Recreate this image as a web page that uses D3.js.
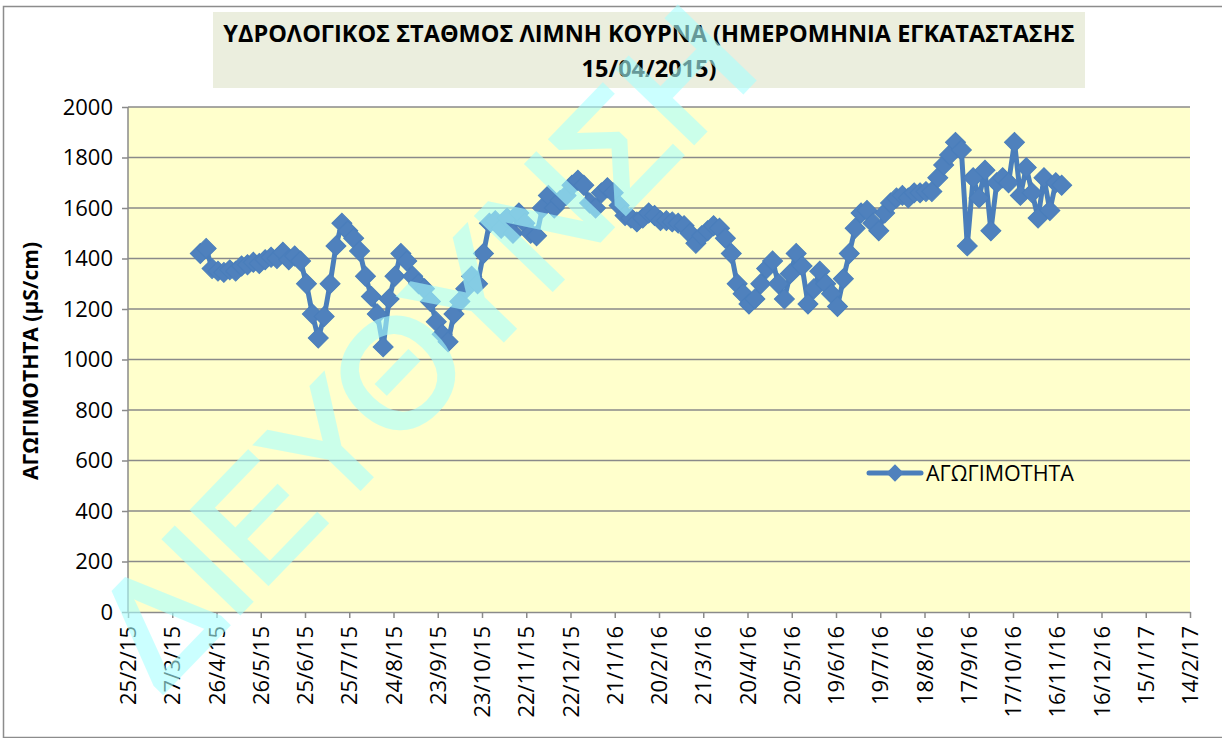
<!DOCTYPE html>
<html>
<head>
<meta charset="utf-8">
<script src="https://cdn.jsdelivr.net/npm/d3@7"></script>
<style>
  body { margin: 0; background: #fff; }
  text { font-family: "Open Sans", sans-serif; }
</style>
</head>
<body>
<div id="chart"></div>
<script>
var svgWidth = 1222;
var svgHeight = 738;

var margin = {
  top: 107,
  right: 32,
  bottom: 126,
  left: 128
};

var width = svgWidth - margin.left - margin.right;
var height = svgHeight - margin.top - margin.bottom;

// x-axis tick labels (every 30 days)
var tickLabels = ["25/2/15", "27/3/15", "26/4/15", "26/5/15", "25/6/15", "25/7/15",
  "24/8/15", "23/9/15", "23/10/15", "22/11/15", "22/12/15", "21/1/16", "20/2/16",
  "21/3/16", "20/4/16", "20/5/16", "19/6/16", "19/7/16", "18/8/16", "17/9/16",
  "17/10/16", "16/11/16", "16/12/16", "15/1/17", "14/2/17"];

var yTicks = [0, 200, 400, 600, 800, 1000, 1200, 1400, 1600, 1800, 2000];

// readings, one every 4 days starting on the installation date
var firstDate = "15/4/15";
var stepDays = 4;
var conductivity = [
  1420, 1440, 1360, 1350, 1345, 1355, 1350, 1370, 1375, 1385,
  1380, 1395, 1405, 1400, 1425, 1395, 1410, 1390, 1300, 1180,
  1085, 1170, 1300, 1450, 1540, 1510, 1480, 1430, 1330, 1250,
  1180, 1050, 1240, 1330, 1420, 1390, 1330, 1300, 1280, 1230,
  1150, 1100, 1070, 1180, 1230, 1280, 1330, 1300, 1420, 1540,
  1550, 1520, 1560, 1500, 1580, 1540, 1500, 1490, 1600, 1650,
  1600, 1630, 1650, 1690, 1710, 1690, 1620, 1600, 1660, 1680,
  1660, 1610, 1570, 1560, 1545, 1560, 1580, 1570, 1550, 1550,
  1545, 1540, 1530, 1500, 1460, 1490, 1510, 1530, 1520, 1480,
  1420, 1300, 1260, 1220, 1240, 1300, 1360, 1390, 1300, 1240,
  1340, 1420, 1370, 1220, 1280, 1350, 1300, 1260, 1210, 1320,
  1420, 1520, 1580, 1590, 1540, 1510, 1580, 1620, 1640, 1650,
  1640, 1660, 1660, 1665, 1665, 1720, 1770, 1810, 1860, 1830,
  1450, 1720, 1640, 1750, 1510, 1700, 1720, 1700, 1860, 1650,
  1760, 1660, 1560, 1720, 1590, 1700, 1690
];

var parseDate = d3.utcParse("%d/%m/%y");
var startDay = parseDate(firstDate);

var seriesData = conductivity.map(function(v, i) {
  return { date: d3.utcDay.offset(startDay, i * stepDays), value: v };
});

var svg = d3
  .select("#chart")
  .append("svg")
  .attr("width", svgWidth)
  .attr("height", svgHeight);

// outer chart border
svg.append("rect")
  .attr("x", 3.5)
  .attr("y", 6.5)
  .attr("width", 1240)
  .attr("height", 731)
  .attr("fill", "none")
  .attr("stroke", "#8c8c8c")
  .attr("stroke-width", 1.5);

// title box
svg.append("rect")
  .attr("x", 213)
  .attr("y", 12)
  .attr("width", 872)
  .attr("height", 76)
  .attr("fill", "#ebeede");

svg.append("text")
  .attr("x", 649)
  .attr("y", 42)
  .attr("text-anchor", "middle")
  .attr("font-size", "23.5px")
  .attr("font-weight", "bold")
  .text("ΥΔΡΟΛΟΓΙΚΟΣ ΣΤΑΘΜΟΣ ΛΙΜΝΗ ΚΟΥΡΝΑ (ΗΜΕΡΟΜΗΝΙΑ ΕΓΚΑΤΑΣΤΑΣΗΣ");

svg.append("text")
  .attr("x", 649)
  .attr("y", 77)
  .attr("text-anchor", "middle")
  .attr("font-size", "23.5px")
  .attr("font-weight", "bold")
  .text("15/04/2015)");

var chartGroup = svg.append("g")
  .attr("transform", `translate(${margin.left}, ${margin.top})`);

// scales
var tickDates = tickLabels.map(parseDate);

var xScale = d3.scaleUtc()
  .domain([tickDates[0], tickDates[tickDates.length - 1]])
  .range([0, width]);

var yScale = d3.scaleLinear()
  .domain([0, 2000])
  .range([height, 0]);

// plot area
chartGroup.append("rect")
  .attr("width", width)
  .attr("height", height)
  .attr("fill", "#ffffcc");

// gridlines
chartGroup.selectAll(".grid")
  .data(yTicks.filter(d => d > 0))
  .enter()
  .append("line")
  .attr("x1", 0)
  .attr("x2", width)
  .attr("y1", d => yScale(d))
  .attr("y2", d => yScale(d))
  .attr("stroke", "#8a8a8a")
  .attr("stroke-width", 1.5);

// axes
var leftAxis = d3.axisLeft(yScale)
  .tickValues(yTicks)
  .tickSize(6)
  .tickSizeOuter(0)
  .tickFormat(d3.format("d"));
var bottomAxis = d3.axisBottom(xScale)
  .tickValues(tickDates)
  .tickSize(6)
  .tickSizeOuter(0)
  .tickFormat(d3.utcFormat("%-d/%-m/%y"));

var yAxisG = chartGroup.append("g").call(leftAxis);
yAxisG.selectAll("line").attr("stroke", "#8a8a8a").attr("stroke-width", 1.5);
yAxisG.selectAll("text")
  .attr("x", -15)
  .attr("font-size", "22px")
  .attr("fill", "#000")
  .style("font-family", '"Open Sans", sans-serif');
yAxisG.select(".domain").remove();

var xAxisG = chartGroup.append("g")
  .attr("transform", `translate(0, ${height})`)
  .call(bottomAxis);
xAxisG.selectAll("path, line").attr("stroke", "#8a8a8a").attr("stroke-width", 1.5);
xAxisG.selectAll("text")
  .attr("transform", "rotate(-90)")
  .attr("text-anchor", "end")
  .attr("x", -14)
  .attr("y", 0)
  .attr("dy", "0.35em")
  .attr("font-size", "22px")
  .attr("fill", "#000")
  .style("font-family", '"Open Sans", sans-serif');

chartGroup.append("line")
  .attr("x1", 0).attr("x2", 0)
  .attr("y1", 0).attr("y2", height)
  .attr("stroke", "#8a8a8a")
  .attr("stroke-width", 1.5);

// y-axis title
svg.append("text")
  .attr("transform", "translate(38, 361) rotate(-90)")
  .attr("text-anchor", "middle")
  .attr("font-size", "21px")
  .attr("font-weight", "bold")
  .text("ΑΓΩΓΙΜΟΤΗΤΑ (μS/cm)");

// series line + diamond markers
var seriesColor = "#4a7ebb";
var diamond = d3.symbol().type(d3.symbolSquare).size(200);

var line = d3.line()
  .x(d => xScale(d.date))
  .y(d => yScale(d.value));

chartGroup.append("path")
  .datum(seriesData)
  .attr("d", line)
  .attr("fill", "none")
  .attr("stroke", seriesColor)
  .attr("stroke-width", 5)
  .attr("stroke-linejoin", "round");

chartGroup.selectAll(".marker")
  .data(seriesData)
  .enter()
  .append("path")
  .attr("d", diamond)
  .attr("transform", d => `translate(${xScale(d.date)}, ${yScale(d.value)}) rotate(45)`)
  .attr("fill", "#4f81bd")
  .attr("stroke", seriesColor)
  .attr("stroke-width", 1);

// legend
var legend = svg.append("g").attr("transform", "translate(869, 473)");
legend.append("line")
  .attr("x1", 0).attr("x2", 52)
  .attr("stroke", seriesColor)
  .attr("stroke-width", 5)
  .attr("stroke-linecap", "round");
legend.append("path")
  .attr("d", d3.symbol().type(d3.symbolSquare).size(150))
  .attr("transform", "translate(26, 0) rotate(45)")
  .attr("fill", "#4f81bd");
legend.append("text")
  .attr("x", 57)
  .attr("dy", "0.35em")
  .attr("font-size", "21.5px")
  .text("ΑΓΩΓΙΜΟΤΗΤΑ");

// watermark on top of everything
var mark = svg.append("g").attr("opacity", 0.6);
mark.append("text")
  .attr("transform", "translate(160, 695) rotate(-46)")
  .attr("font-size", "152px")
  .style("font-family", '"Liberation Sans", Arial, sans-serif')
  .attr("fill", "rgb(170,255,255)")
  .attr("stroke", "rgb(170,255,255)")
  .attr("stroke-width", 5)
  .text("ΔΙΕΥΘΥΝΣΗ");
</script>
</body>
</html>
